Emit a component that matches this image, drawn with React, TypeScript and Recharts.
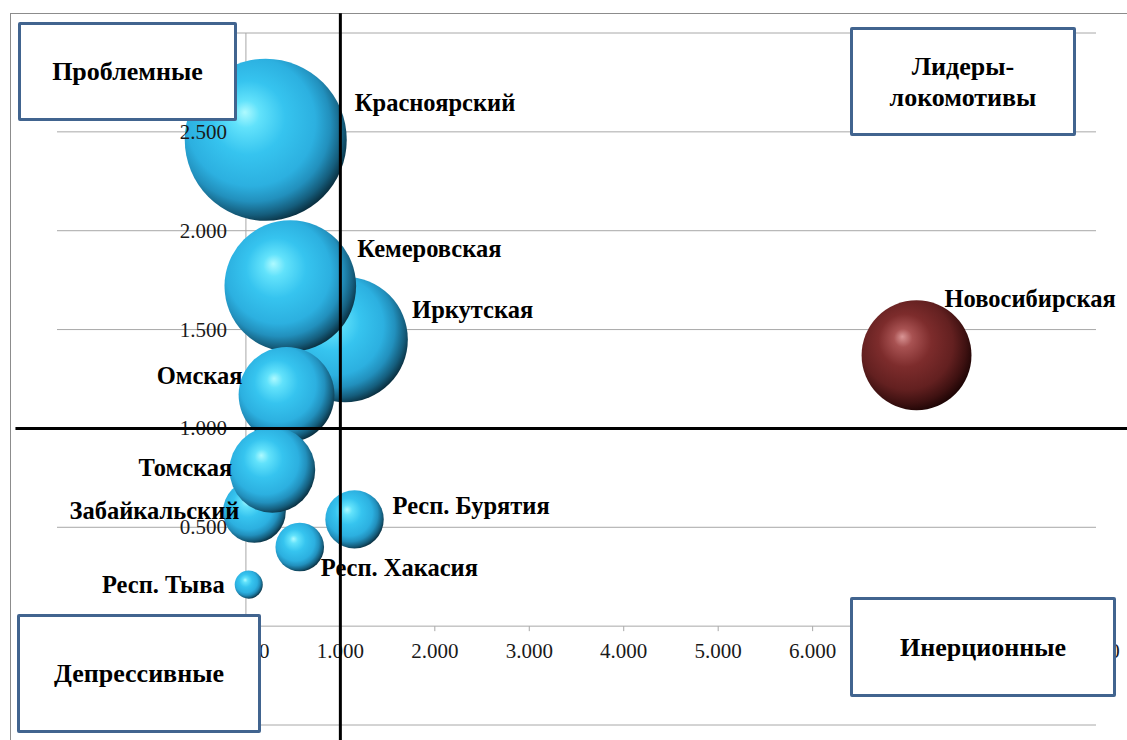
import React from 'react';
import {
  ScatterChart,
  Scatter,
  XAxis,
  YAxis,
  ZAxis,
  CartesianGrid,
  ReferenceLine,
  ReferenceDot,
  LabelList,
} from 'recharts';

// Siberian regions (blue bubbles)
const regions = [
  'Иркутская',
  'Красноярский',
  'Кемеровская',
  'Омская',
  'Забайкальский',
  'Томская',
  'Респ. Бурятия',
  'Респ. Хакасия',
  'Респ. Тыва',
];
const regionX = [1.05, 0.21, 0.47, 0.43, 0.09, 0.28, 1.15, 0.57, 0.03];
const regionY = [1.45, 2.46, 1.72, 1.17, 0.58, 0.79, 0.54, 0.4, 0.21];
const regionSize = [60, 100, 66, 35, 15, 28, 13, 9, 3];

// the leader (dark red bubble)
const leaders = ['Новосибирская'];
const leaderX = [7.1];
const leaderY = [1.37];
const leaderSize = [46];

const xTicks = [-2, -1, 0, 1, 2, 3, 4, 5, 6, 7, 8, 9];
const yTicks = [-0.5, 0, 0.5, 1, 1.5, 2, 2.5, 3];

const regionData = regions.map((name, i) => ({ name, x: regionX[i], y: regionY[i], z: regionSize[i] }));
const leaderData = leaders.map((name, i) => ({ name, x: leaderX[i], y: leaderY[i], z: leaderSize[i] }));

// where each data label sits relative to its bubble (px)
const labelPlace: Record<string, { dx: number; dy: number; anchor: 'start' | 'end' }> = {
  'Красноярский': { dx: 89, dy: -37, anchor: 'start' },
  'Кемеровская': { dx: 67, dy: -37, anchor: 'start' },
  'Иркутская': { dx: 67, dy: -29, anchor: 'start' },
  'Новосибирская': { dx: 28, dy: -56, anchor: 'start' },
  'Омская': { dx: -44, dy: -19, anchor: 'end' },
  'Томская': { dx: -40, dy: -2, anchor: 'end' },
  'Забайкальский': { dx: -15, dy: 0, anchor: 'end' },
  'Респ. Бурятия': { dx: 38, dy: -13, anchor: 'start' },
  'Респ. Хакасия': { dx: 21, dy: 21, anchor: 'start' },
  'Респ. Тыва': { dx: -24, dy: 0, anchor: 'end' },
};

const SERIF = '"Liberation Serif", "Times New Roman", serif';
const GRID = '#a8a8a8';
const BOX_BORDER = '#41648f';

const sphere = (gradId: string) => (props: any) => {
  const { cx, cy } = props;
  if (cx == null || cy == null) return <g />;
  const r = props.width != null ? props.width / 2 : Math.sqrt((props.size ?? 0) / Math.PI);
  return <circle cx={cx} cy={cy} r={r} fill={`url(#${gradId})`} />;
};

const bubbleLabel = (props: any) => {
  const vb = props.viewBox && props.viewBox.width != null ? props.viewBox : props;
  const name = String(props.value ?? '');
  const place = labelPlace[name];
  if (!place || vb.x == null) return null;
  const cx = vb.x + vb.width / 2;
  const cy = vb.y + vb.height / 2;
  return (
    <text
      x={cx + place.dx}
      y={cy + place.dy + 8}
      textAnchor={place.anchor}
      fontFamily={SERIF}
      fontWeight="bold"
      fontSize={24.5}
      fill="#000"
    >
      {name}
    </text>
  );
};

const yTickLabel = (t: number) => (props: any) => (
  <text
    x={props.cx - 19}
    y={props.cy + 7}
    textAnchor="end"
    fontFamily={SERIF}
    fontSize={21}
    fill="#1a1a1a"
  >
    {t.toFixed(3)}
  </text>
);

const xTickLabel = (t: number) => (props: any) => (
  <g>
    <line x1={props.cx} y1={props.cy} x2={props.cx} y2={props.cy + 5} stroke={GRID} strokeWidth={1} />
    <text
      x={props.cx}
      y={props.cy + 32}
      textAnchor="middle"
      fontFamily={SERIF}
      fontSize={21}
      fill="#1a1a1a"
    >
      {t.toFixed(3)}
    </text>
  </g>
);

const boxStyle: React.CSSProperties = {
  position: 'absolute',
  boxSizing: 'border-box',
  border: `3px solid ${BOX_BORDER}`,
  borderRadius: 2,
  background: '#fff',
  display: 'flex',
  alignItems: 'center',
  justifyContent: 'center',
  textAlign: 'center',
  fontFamily: SERIF,
  fontWeight: 'bold',
  fontSize: 26,
  lineHeight: '31px',
  color: '#000',
};

export default function App() {
  return (
    <div
      style={{
        position: 'absolute',
        left: 0,
        top: 0,
        width: 1127,
        height: 740,
        overflow: 'hidden',
        background: '#fff',
      }}
    >
      <div
        style={{
          position: 'absolute',
          left: 10,
          top: 13,
          width: 1300,
          height: 900,
          borderTop: '1px solid #8c8c8c',
          borderLeft: '1px solid #8c8c8c',
        }}
      />
      <div style={{ position: 'absolute', left: 0, top: 0 }}>
        <ScatterChart width={1127} height={740} margin={{ top: 33, right: 31, bottom: 15, left: 57 }}>
          <defs>
            <radialGradient id="sphereBlue" cx="43%" cy="42%" r="60%" fx="37%" fy="33%">
              <stop offset="0%" stopColor="#aefaff" />
              <stop offset="14%" stopColor="#62e2fb" />
              <stop offset="38%" stopColor="#36c4ef" />
              <stop offset="66%" stopColor="#2cb0e0" />
              <stop offset="80%" stopColor="#2290bd" />
              <stop offset="92%" stopColor="#155d7c" />
              <stop offset="100%" stopColor="#0a3142" />
            </radialGradient>
            <radialGradient id="sphereRed" cx="43%" cy="42%" r="60%" fx="37%" fy="33%">
              <stop offset="0%" stopColor="#d99595" />
              <stop offset="14%" stopColor="#a85252" />
              <stop offset="40%" stopColor="#7d2c2c" />
              <stop offset="70%" stopColor="#632020" />
              <stop offset="88%" stopColor="#3e1111" />
              <stop offset="100%" stopColor="#1e0505" />
            </radialGradient>
          </defs>
          <CartesianGrid horizontal vertical={false} stroke={GRID} strokeWidth={1} />
          <XAxis type="number" dataKey="x" domain={[-2, 9]} ticks={xTicks} hide />
          <YAxis type="number" dataKey="y" domain={[-0.5, 3]} ticks={yTicks} hide />
          <ZAxis type="number" dataKey="z" domain={[0, 100]} range={[0, Math.PI * 81 * 81]} />
          <ReferenceLine x={0} stroke={GRID} strokeWidth={1} />
          {xTicks.map((t) => (
            <ReferenceDot key={`x${t}`} x={t} y={0} r={0} shape={xTickLabel(t)} />
          ))}
          <Scatter data={regionData} shape={sphere('sphereBlue')} isAnimationActive={false}>
            <LabelList dataKey="name" content={bubbleLabel} />
          </Scatter>
          <Scatter data={leaderData} shape={sphere('sphereRed')} isAnimationActive={false}>
            <LabelList dataKey="name" content={bubbleLabel} />
          </Scatter>
          {yTicks.map((t) => (
            <ReferenceDot key={`y${t}`} x={0} y={t} r={0} shape={yTickLabel(t)} zIndex={1400} />
          ))}
          <ReferenceLine
            segment={[{ x: 1, y: -0.6 }, { x: 1, y: 3.1 }]}
            stroke="#000"
            strokeWidth={3}
            ifOverflow="visible"
            zIndex={1500}
          />
          <ReferenceLine
            segment={[{ x: -2.44, y: 1 }, { x: 9.4, y: 1 }]}
            stroke="#000"
            strokeWidth={3}
            ifOverflow="visible"
            zIndex={1500}
          />
        </ScatterChart>
      </div>
      <div style={{ ...boxStyle, left: 18, top: 22, width: 219, height: 99 }}>Проблемные</div>
      <div style={{ ...boxStyle, left: 850, top: 27, width: 226, height: 109 }}>
        Лидеры-
        <br />
        локомотивы
      </div>
      <div style={{ ...boxStyle, left: 850, top: 597, width: 266, height: 100 }}>Инерционные</div>
      <div style={{ ...boxStyle, left: 17, top: 614, width: 244, height: 119 }}>Депрессивные</div>
    </div>
  );
}
